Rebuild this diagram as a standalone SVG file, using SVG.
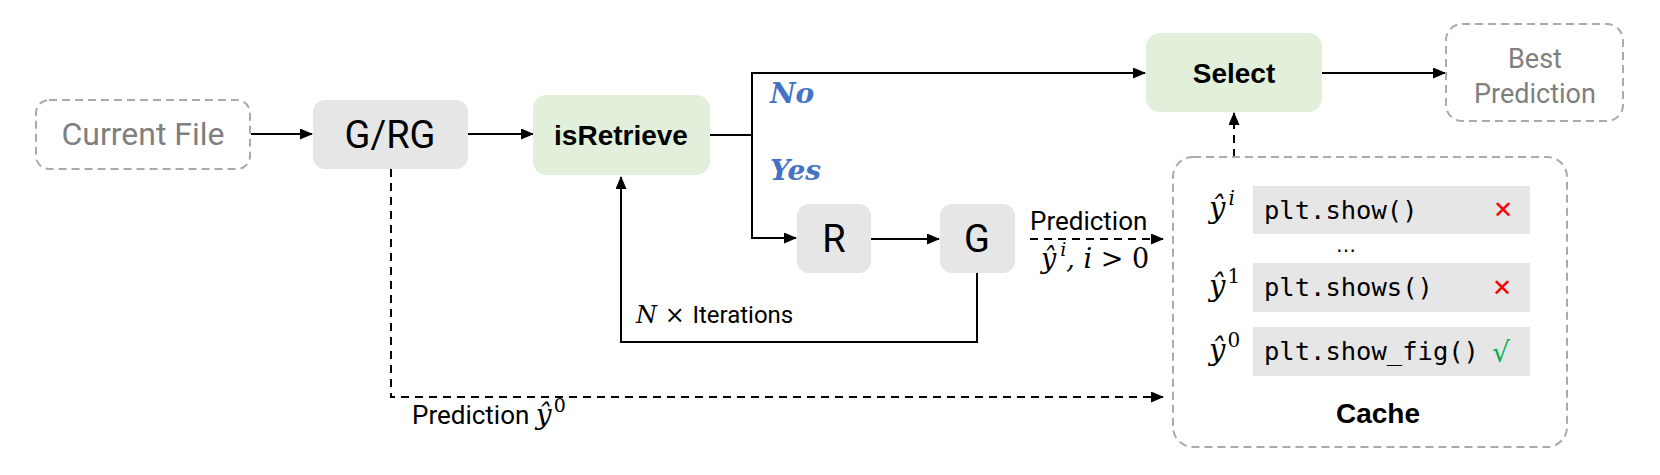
<svg xmlns="http://www.w3.org/2000/svg" width="1660" height="475" viewBox="0 0 1660 475">
<defs>
<marker id="arr" markerUnits="userSpaceOnUse" markerWidth="13" markerHeight="11" refX="12" refY="5.5" orient="auto">
<path d="M0,0 L13,5.5 L0,11 z" fill="#000"/>
</marker>
<style>
.dashbox{fill:#fff;stroke:#aaaaaa;stroke-width:2;stroke-dasharray:8,5}
.grey{fill:#e7e6e6}
.green{fill:#e2efda}
.din{font-family:Roboto,"DejaVu Sans",sans-serif}
.bold{font-family:"Liberation Sans",Arial,sans-serif;font-weight:bold;font-size:28px;fill:#000}
.math{font-family:"DejaVu Serif","Liberation Serif",serif;font-style:italic}
.mathu{font-family:"DejaVu Serif","Liberation Serif",serif}
.mono{font-family:"DejaVu Sans Mono","Liberation Mono",monospace;font-size:25.5px;fill:#000}
.ln{fill:none;stroke:#000;stroke-width:2}
.dl{fill:none;stroke:#000;stroke-width:2;stroke-dasharray:8,6}
.yn{font-family:"DejaVu Serif","Liberation Serif",serif;font-style:italic;font-weight:bold;font-size:28px;fill:#4472c4}
</style>
</defs>
<rect width="1660" height="475" fill="#fff"/>

<g id="connectors">
<path class="ln" d="M251,134 H312" marker-end="url(#arr)"/>
<path class="ln" d="M468,134 H533" marker-end="url(#arr)"/>
<path class="ln" d="M709,135 H752 V73 H1145" marker-end="url(#arr)"/>
<path class="ln" d="M752,135 V238 H796" marker-end="url(#arr)"/>
<path class="ln" d="M871,239 H939" marker-end="url(#arr)"/>
<path class="ln" d="M977,273 V342 H621 V177" marker-end="url(#arr)"/>
<path class="ln" d="M1321,73 H1445" marker-end="url(#arr)"/>
<path class="dl" d="M391,169 V397 H1163" marker-end="url(#arr)"/>
<path class="dl" d="M1030,239 H1163" marker-end="url(#arr)"/>
<path class="dl" d="M1234,157 V113" marker-end="url(#arr)"/>
<text class="yn" x="770" y="103">No</text>
<text class="yn" x="770" y="180">Yes</text>
<text class="din" x="1030" y="230" font-size="26">Prediction</text>
<text x="1041" y="268" font-size="27"><tspan class="math">ŷ</tspan><tspan class="math" font-size="19" dx="4" dy="-12">i</tspan><tspan class="math" dy="12">, i </tspan><tspan class="mathu">&gt; 0</tspan></text>
<text x="636" y="323" font-size="24"><tspan class="math">N</tspan><tspan class="mathu"> × </tspan><tspan class="din">Iterations</tspan></text>
<text x="412" y="424" font-size="26"><tspan class="din">Prediction </tspan><tspan class="math" font-size="28">ŷ</tspan><tspan class="mathu" font-size="19" dx="2" dy="-12">0</tspan></text>
</g>

<g id="current-file">
<rect class="dashbox" x="36" y="100" width="214" height="69" rx="13"/>
<text class="din" x="143" y="145" font-size="32" fill="#7f7f7f" text-anchor="middle">Current File</text>
</g>

<g id="g-rg">
<rect class="grey" x="313" y="100" width="155" height="69" rx="12"/>
<text class="din" x="390" y="148" font-size="38" fill="#000" text-anchor="middle">G/RG</text>
</g>

<g id="isretrieve">
<rect class="green" x="533" y="95" width="177" height="80" rx="14"/>
<text class="bold" x="621" y="145" text-anchor="middle">isRetrieve</text>
</g>

<g id="r">
<rect class="grey" x="797" y="204" width="74" height="69" rx="12"/>
<text class="din" x="834" y="252" font-size="38" fill="#000" text-anchor="middle">R</text>
</g>

<g id="g">
<rect class="grey" x="940" y="204" width="75" height="69" rx="12"/>
<text class="din" x="977" y="252" font-size="38" fill="#000" text-anchor="middle">G</text>
</g>

<g id="select">
<rect class="green" x="1146" y="33" width="176" height="79" rx="14"/>
<text class="bold" x="1234" y="83" text-anchor="middle">Select</text>
</g>

<g id="best-prediction">
<rect class="dashbox" x="1446" y="24" width="177" height="97" rx="16"/>
<text class="din" x="1535" y="68" font-size="27" fill="#7f7f7f" text-anchor="middle">Best</text>
<text class="din" x="1535" y="103" font-size="27" fill="#7f7f7f" text-anchor="middle">Prediction</text>
</g>

<g id="cache">
<rect class="dashbox" x="1173" y="157" width="394" height="290" rx="20"/>
<text x="1209" y="218" font-size="29"><tspan class="math">ŷ</tspan><tspan class="math" font-size="20" dx="3" dy="-13">i</tspan></text>
<rect class="grey" x="1253" y="186" width="277" height="48"/>
<text class="mono" x="1264" y="219">plt.show()</text>
<text x="1503" y="218" font-family="DejaVu Sans,sans-serif" font-size="24" font-weight="bold" fill="#ff0000" text-anchor="middle">✕</text>
<text x="1346" y="252" font-family="DejaVu Sans,sans-serif" font-size="20" fill="#000" text-anchor="middle">…</text>
<text x="1209" y="296" font-size="29"><tspan class="math">ŷ</tspan><tspan class="mathu" font-size="20" dx="2" dy="-13">1</tspan></text>
<rect class="grey" x="1253" y="263" width="277" height="49"/>
<text class="mono" x="1264" y="296">plt.shows()</text>
<text x="1502" y="296" font-family="DejaVu Sans,sans-serif" font-size="24" font-weight="bold" fill="#ff0000" text-anchor="middle">✕</text>
<text x="1209" y="360" font-size="29"><tspan class="math">ŷ</tspan><tspan class="mathu" font-size="20" dx="2" dy="-13">0</tspan></text>
<rect class="grey" x="1253" y="327" width="277" height="49"/>
<text class="mono" x="1264" y="360">plt.show_fig()</text>
<text x="1501" y="362" font-family="DejaVu Sans,sans-serif" font-size="28" fill="#00b050" text-anchor="middle">√</text>
<text class="bold" x="1378" y="423" text-anchor="middle">Cache</text>
</g>
</svg>
